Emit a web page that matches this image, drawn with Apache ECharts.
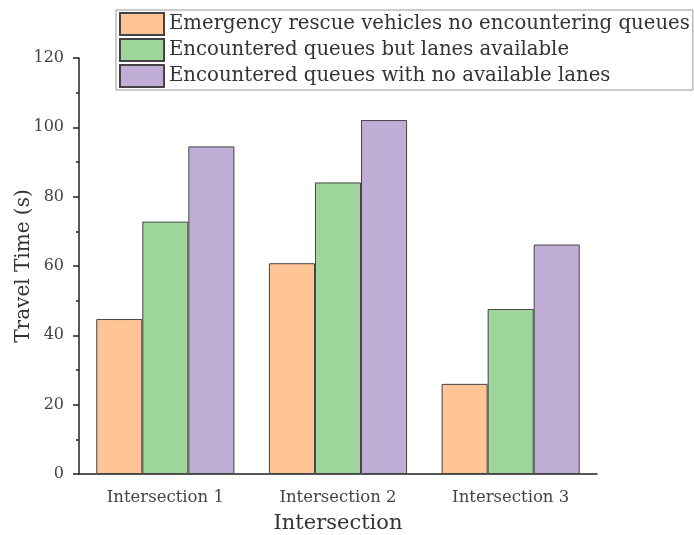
<!DOCTYPE html>
<html><head><meta charset="utf-8">
<script src="https://cdn.jsdelivr.net/npm/echarts@6/dist/echarts.min.js"></script>
<style>html,body{margin:0;padding:0;background:#fff}#c{width:694px;height:535px}</style>
</head><body><div id="c"></div>
<script>
const categories = ["Intersection 1", "Intersection 2", "Intersection 3"];
const seriesNames = ["Emergency rescue vehicles no encountering queues", "Encountered queues but lanes available", "Encountered queues with no available lanes"];
const noQueue = [44.7, 60.8, 26.0];
const lanesAvailable = [72.8, 84.1, 47.6];
const noLanes = [94.5, 102.1, 66.2];
const yTicks = [0, 20, 40, 60, 80, 100, 120];

const colors = ["#FFC594", "#9DD59A", "#C1AED6"];
const font = "DejaVu Serif";
const chart = echarts.init(document.getElementById('c'));
const values = [noQueue, lanesAvailable, noLanes];
chart.setOption({
  animation: false,
  textStyle: {fontFamily: font},
  grid: {left: 79, right: 97, top: 58, bottom: 61, containLabel: false, outerBoundsMode: 'none'},
  legend: {
    orient: 'vertical', left: 116, top: 10,
    itemWidth: 44, itemHeight: 22, itemGap: 2,
    borderColor: '#999', borderWidth: 1, padding: [2, 3],
    textStyle: {fontFamily: font, fontSize: 19.7, color: '#333'},
    data: seriesNames.map(n => ({name: n, icon: 'rect'}))
  },
  xAxis: [{
    type: 'category', data: categories,
    name: 'Intersection', nameLocation: 'middle', nameGap: 39, nameMoveOverlap: false,
    nameTextStyle: {fontFamily: font, fontSize: 21, color: '#333'},
    axisLine: {lineStyle: {color: '#222', width: 1.5}},
    axisTick: {alignWithLabel: true, length: 6, lineStyle: {color: '#222', width: 1.5}},
    axisLabel: {fontFamily: font, fontSize: 16.5, color: '#444', margin: 15}
  }, {
    type: 'category', data: categories, position: 'bottom',
    axisLine: {show: false},
    axisTick: {length: 3, lineStyle: {color: '#222', width: 1.5}},
    axisLabel: {show: false}
  }],
  yAxis: {
    type: 'value', min: yTicks[0], max: yTicks[yTicks.length - 1], interval: 20,
    name: 'Travel Time (s)', nameLocation: 'middle', nameGap: 45, nameMoveOverlap: false,
    nameTextStyle: {fontFamily: font, fontSize: 20, color: '#333'},
    axisLine: {show: true, lineStyle: {color: '#222', width: 1.5}},
    axisTick: {show: true, length: 6, lineStyle: {color: '#222', width: 1.5}},
    minorTick: {show: true, splitNumber: 2, length: 3, lineStyle: {color: '#222', width: 1.5}},
    splitLine: {show: false},
    axisLabel: {fontFamily: font, fontSize: 16, color: '#444', margin: 15}
  },
  series: seriesNames.map((n, i) => ({
    name: n, type: 'bar', data: values[i],
    barGap: '0%', barCategoryGap: '20%',
    itemStyle: {color: colors[i], borderColor: '#444', borderWidth: 1}
  }))
});
</script></body></html>
